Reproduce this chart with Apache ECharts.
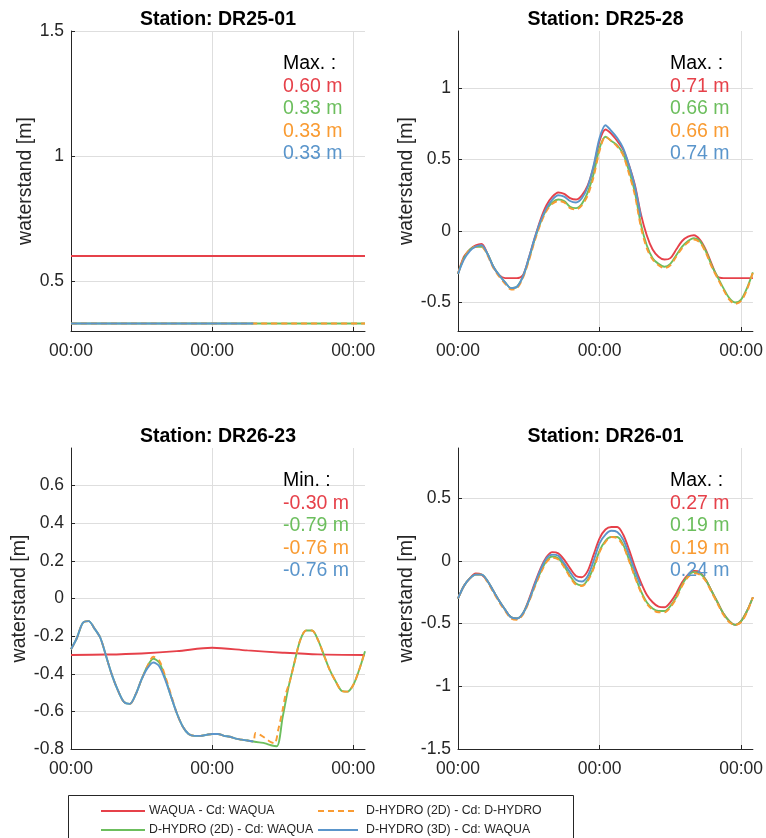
<!DOCTYPE html>
<html><head><meta charset="utf-8">
<script src="https://cdn.jsdelivr.net/npm/echarts@6/dist/echarts.min.js"></script>
<style>html,body{margin:0;padding:0;background:#fff}#c{width:766px;height:838px}</style>
</head><body><div id="c"></div>
<script>
// ---------- data ----------
const seriesNames = ['WAQUA - Cd: WAQUA', 'D-HYDRO (2D) - Cd: WAQUA', 'D-HYDRO (2D) - Cd: D-HYDRO', 'D-HYDRO (3D) - Cd: WAQUA'];
const stations = ['Station: DR25-01', 'Station: DR25-28', 'Station: DR26-23', 'Station: DR26-01'];
const xTickValues = [0, 24, 48];
const xTickLabels = ['00:00', '00:00', '00:00'];

const hours = [0,1,2,3,4,5,6,7,8,9,10,11,12,13,14,15,16,17,18,19,20,21,22,23,24,25,26,27,28,29,30,31,32,33,34,35,36,37,38,39,40,41,42,43,44,45,46,47,48,49,50];
const hours3D = [0,1,2,3,4,5,6,7,8,9,10,11,12,13,14,15,16,17,18,19,20,21,22,23,24,25,26,27,28,29,30,31];

// DR25-01 (constant levels)
const dr2501_h = [0, 50];
const dr2501_h3D = [0, 31];
const dr2501_red = [0.60, 0.60];
const dr2501_green = [0.33, 0.33];
const dr2501_orange = [0.33, 0.33];
const dr2501_blue = [0.33, 0.33];

// DR25-28
const dr2528_red = [-0.30,-0.18,-0.13,-0.10,-0.09,-0.16,-0.25,-0.31,-0.33,-0.33,-0.33,-0.31,-0.19,-0.05,0.08,0.18,0.24,0.27,0.26,0.23,0.22,0.25,0.32,0.45,0.63,0.71,0.68,0.63,0.57,0.46,0.32,0.12,-0.03,-0.13,-0.18,-0.20,-0.19,-0.13,-0.07,-0.04,-0.03,-0.06,-0.13,-0.23,-0.32,-0.33,-0.33,-0.33,-0.33,-0.33,-0.33];
const dr2528_green = [-0.30,-0.19,-0.13,-0.11,-0.11,-0.16,-0.25,-0.31,-0.36,-0.40,-0.39,-0.32,-0.20,-0.06,0.06,0.15,0.20,0.22,0.21,0.17,0.16,0.19,0.27,0.40,0.58,0.66,0.63,0.60,0.54,0.42,0.27,0.05,-0.10,-0.19,-0.23,-0.25,-0.23,-0.17,-0.11,-0.07,-0.05,-0.07,-0.14,-0.24,-0.32,-0.40,-0.47,-0.50,-0.48,-0.40,-0.29];
const dr2528_orange = [-0.30,-0.19,-0.13,-0.11,-0.11,-0.17,-0.26,-0.32,-0.37,-0.41,-0.40,-0.33,-0.21,-0.07,0.05,0.14,0.19,0.21,0.20,0.16,0.15,0.18,0.25,0.38,0.56,0.66,0.63,0.59,0.53,0.40,0.25,0.03,-0.12,-0.20,-0.24,-0.26,-0.24,-0.18,-0.12,-0.08,-0.06,-0.08,-0.15,-0.25,-0.33,-0.41,-0.48,-0.51,-0.49,-0.41,-0.29];
const dr2528_blue = [-0.30,-0.20,-0.14,-0.11,-0.10,-0.16,-0.25,-0.31,-0.36,-0.40,-0.39,-0.32,-0.19,-0.05,0.07,0.16,0.22,0.25,0.24,0.21,0.20,0.23,0.31,0.46,0.65,0.74,0.70,0.65,0.58,0.46,0.31,0.10];

// DR26-23
const dr2623_red_h = [0, 6, 12, 18, 24, 30, 36, 42, 50];
const dr2623_red = [-0.300,-0.298,-0.292,-0.280,-0.262,-0.276,-0.288,-0.297,-0.300];
const dr2623_green = [-0.27,-0.21,-0.13,-0.12,-0.16,-0.21,-0.31,-0.41,-0.49,-0.55,-0.56,-0.51,-0.43,-0.36,-0.32,-0.34,-0.42,-0.52,-0.61,-0.68,-0.72,-0.73,-0.73,-0.725,-0.72,-0.72,-0.73,-0.735,-0.745,-0.75,-0.755,-0.76,-0.765,-0.77,-0.78,-0.785,-0.63,-0.47,-0.34,-0.22,-0.17,-0.17,-0.22,-0.30,-0.38,-0.44,-0.49,-0.495,-0.46,-0.38,-0.28];
const dr2623_orange_h = [0,1,2,3,4,5,6,7,8,9,10,11,12,13,14,15,16,17,18,19,20,21,22,23,24,25,26,27,28,29,30,31,31.4,32.7,33.8,34.6,35.3,36,36.5,37.3,38,39,40,41,42,43,44,45,46,47,48,49,50];
const dr2623_orange = [-0.27,-0.21,-0.13,-0.12,-0.16,-0.21,-0.31,-0.41,-0.49,-0.55,-0.56,-0.51,-0.43,-0.36,-0.31,-0.33,-0.41,-0.51,-0.61,-0.68,-0.72,-0.73,-0.73,-0.725,-0.72,-0.72,-0.73,-0.735,-0.745,-0.75,-0.755,-0.76,-0.715,-0.735,-0.76,-0.77,-0.69,-0.59,-0.51,-0.43,-0.34,-0.22,-0.17,-0.17,-0.22,-0.30,-0.38,-0.44,-0.49,-0.495,-0.46,-0.38,-0.28];
const dr2623_blue = [-0.27,-0.21,-0.13,-0.12,-0.16,-0.21,-0.31,-0.41,-0.49,-0.55,-0.56,-0.51,-0.43,-0.37,-0.34,-0.36,-0.43,-0.52,-0.61,-0.68,-0.72,-0.73,-0.73,-0.725,-0.72,-0.72,-0.73,-0.735,-0.745,-0.75,-0.755,-0.76];

// DR26-01
const dr2601_red = [-0.30,-0.20,-0.14,-0.10,-0.11,-0.16,-0.24,-0.32,-0.39,-0.45,-0.46,-0.42,-0.31,-0.18,-0.06,0.03,0.07,0.06,0.01,-0.06,-0.12,-0.13,-0.08,0.05,0.18,0.25,0.27,0.27,0.21,0.09,-0.05,-0.17,-0.27,-0.33,-0.365,-0.37,-0.33,-0.26,-0.17,-0.11,-0.08,-0.09,-0.15,-0.24,-0.33,-0.42,-0.48,-0.51,-0.48,-0.40,-0.29];
const dr2601_green = [-0.30,-0.20,-0.14,-0.11,-0.11,-0.16,-0.24,-0.32,-0.39,-0.45,-0.46,-0.42,-0.32,-0.20,-0.09,0.00,0.035,0.02,-0.04,-0.12,-0.18,-0.195,-0.15,-0.05,0.08,0.16,0.19,0.19,0.13,0.01,-0.12,-0.24,-0.33,-0.38,-0.40,-0.40,-0.36,-0.29,-0.19,-0.12,-0.09,-0.10,-0.15,-0.24,-0.33,-0.42,-0.48,-0.51,-0.48,-0.40,-0.29];
const dr2601_orange = [-0.30,-0.20,-0.14,-0.11,-0.11,-0.17,-0.25,-0.33,-0.40,-0.46,-0.47,-0.43,-0.33,-0.21,-0.10,-0.01,0.025,0.01,-0.05,-0.13,-0.19,-0.20,-0.16,-0.06,0.07,0.15,0.19,0.18,0.12,0.00,-0.13,-0.25,-0.34,-0.39,-0.41,-0.41,-0.37,-0.30,-0.20,-0.13,-0.10,-0.11,-0.16,-0.25,-0.34,-0.43,-0.49,-0.51,-0.49,-0.41,-0.29];
const dr2601_blue = [-0.30,-0.20,-0.14,-0.11,-0.11,-0.16,-0.24,-0.32,-0.39,-0.45,-0.46,-0.42,-0.32,-0.19,-0.07,0.02,0.05,0.04,-0.02,-0.09,-0.15,-0.165,-0.12,0.00,0.14,0.21,0.24,0.23,0.17,0.05,-0.08,-0.20];

// y axis ranges / ticks
const yMins = [0.3, -0.7, -0.8, -1.5];
const yMaxs = [1.5, 1.4, 0.8, 0.9];
const yTicks1 = [0.5, 1, 1.5];
const yTicks2 = [-0.5, 0, 0.5, 1];
const yTicks3 = [-0.8, -0.6, -0.4, -0.2, 0, 0.2, 0.4, 0.6];
const yTicks4 = [-1.5, -1, -0.5, 0, 0.5];
const yLabels1 = ['0.5', '1', '1.5'];
const yLabels2 = ['-0.5', '0', '0.5', '1'];
const yLabels3 = ['-0.8', '-0.6', '-0.4', '-0.2', '0', '0.2', '0.4', '0.6'];
const yLabels4 = ['-1.5', '-1', '-0.5', '0', '0.5'];

// annotation texts
const statHeads = ['Max. :', 'Max. :', 'Min. :', 'Max. :'];
const stats1 = ['0.60 m', '0.33 m', '0.33 m', '0.33 m'];
const stats2 = ['0.71 m', '0.66 m', '0.66 m', '0.74 m'];
const stats3 = ['-0.30 m', '-0.79 m', '-0.76 m', '-0.76 m'];
const stats4 = ['0.27 m', '0.19 m', '0.19 m', '0.24 m'];

// ---------- styling / layout ----------
const COLORS = ['#E6414A', '#6CBE5D', '#F99B32', '#5A95CB'];
const FONT = '"Liberation Sans", Arial, Helvetica, sans-serif';
const AX = '#262626';
const GRIDC = '#dedede';
const DASH = [6, 4];
const grids = [
  {left: 71, top: 31, width: 294, height: 300},
  {left: 458, top: 31, width: 295, height: 300},
  {left: 71, top: 448, width: 294, height: 301},
  {left: 458, top: 448, width: 295, height: 301}
];
const yTicksAll = [yTicks1, yTicks2, yTicks3, yTicks4];
const yLabelsAll = [yLabels1, yLabels2, yLabels3, yLabels4];
const statsAll = [stats1, stats2, stats3, stats4];

const panelSeries = [
  [[dr2501_h, dr2501_red], [dr2501_h, dr2501_green], [dr2501_h, dr2501_orange], [dr2501_h3D, dr2501_blue]],
  [[hours, dr2528_red], [hours, dr2528_green], [hours, dr2528_orange], [hours3D, dr2528_blue]],
  [[dr2623_red_h, dr2623_red], [hours, dr2623_green], [dr2623_orange_h, dr2623_orange], [hours3D, dr2623_blue]],
  [[hours, dr2601_red], [hours, dr2601_green], [hours, dr2601_orange], [hours3D, dr2601_blue]]
];

const xAxes = [], yAxes = [], series = [], graphics = [];
grids.forEach((g, i) => {
  xAxes.push({
    type: 'value', gridIndex: i, min: 0, max: 50,
    axisLine: {show: true, onZero: false, lineStyle: {color: AX, width: 1}},
    axisTick: {show: true, inside: true, length: 4, lineStyle: {color: AX}, customValues: xTickValues},
    axisLabel: {color: AX, fontSize: 17.5, fontFamily: FONT, margin: 11, customValues: xTickValues,
      formatter: v => { const k = xTickValues.indexOf(v); return k >= 0 ? xTickLabels[k] : ''; }},
    splitLine: {show: true, lineStyle: {color: GRIDC, width: 1}}
  });
  const yt = yTicksAll[i], yl = yLabelsAll[i];
  yAxes.push({
    type: 'value', gridIndex: i, min: yMins[i], max: yMaxs[i],
    name: 'waterstand [m]', nameLocation: 'middle', nameGap: 34,
    nameTextStyle: {color: AX, fontSize: 19.5, fontFamily: FONT},
    axisLine: {show: true, onZero: false, lineStyle: {color: AX, width: 1}},
    axisTick: {show: true, inside: true, length: 4, lineStyle: {color: AX}, customValues: yt},
    axisLabel: {color: AX, fontSize: 17.5, fontFamily: FONT, margin: 7, customValues: yt,
      formatter: v => { const k = yt.findIndex(t => Math.abs(t - v) < 1e-9); return k >= 0 ? yl[k] : ''; }},
    splitLine: {show: true, lineStyle: {color: GRIDC, width: 1}}
  });
  panelSeries[i].forEach((pair, s) => {
    const xs = pair[0], ys = pair[1];
    series.push({
      type: 'line', name: seriesNames[s], xAxisIndex: i, yAxisIndex: i,
      data: xs.map((x, k) => [x, ys[k]]),
      symbol: 'none', showSymbol: false, smooth: 0.3, clip: true,
      lineStyle: {color: COLORS[s], width: 1.9, type: s === 2 ? DASH : 'solid'},
      itemStyle: {color: COLORS[s]}, emphasis: {disabled: true}, z: 2 + s
    });
  });
  // title
  graphics.push({type: 'text', x: g.left + g.width / 2, y: g.top - 11, z: 10,
    style: {text: stations[i], font: 'bold 19.5px ' + FONT, fill: '#000', align: 'center', verticalAlign: 'middle'}});
  // annotation
  const tx = g.left + 212, ty = g.top + 33;
  graphics.push({type: 'text', x: tx, y: ty, z: 10,
    style: {text: statHeads[i], font: '19.5px ' + FONT, fill: '#000', align: 'left', verticalAlign: 'middle'}});
  statsAll[i].forEach((t, s) => {
    graphics.push({type: 'text', x: tx, y: ty + 22.5 * (s + 1), z: 10,
      style: {text: t, font: '19.5px ' + FONT, fill: COLORS[s], align: 'left', verticalAlign: 'middle'}});
  });
});

// legend (box + 2x2 entries, column-major like the source figure)
graphics.push({type: 'rect', shape: {x: 68.5, y: 795.5, width: 505, height: 60}, z: 0,
  style: {fill: '#fff', stroke: '#262626', lineWidth: 1}});
const legendCols = [{x1: 101, x2: 145, tx: 149}, {x1: 318, x2: 358, tx: 366}];
const legendRows = [811, 830];
seriesNames.forEach((name, s) => {
  const c = legendCols[Math.floor(s / 2)], y = legendRows[s % 2];
  graphics.push({type: 'line', z: 11, shape: {x1: c.x1, y1: y, x2: c.x2, y2: y},
    style: {stroke: COLORS[s], lineWidth: 2, lineDash: s === 2 ? DASH : null}});
  graphics.push({type: 'text', x: c.tx, y: y, z: 11,
    style: {text: name, font: '12.3px ' + FONT, fill: AX, align: 'left', verticalAlign: 'middle'}});
});

const option = {
  animation: false,
  backgroundColor: '#fff',
  grid: grids.map(g => Object.assign({containLabel: false}, g)),
  xAxis: xAxes, yAxis: yAxes, series: series, graphic: graphics
};
const chart = echarts.init(document.getElementById('c'), null, {renderer: 'canvas'});
chart.setOption(option);
</script></body></html>
